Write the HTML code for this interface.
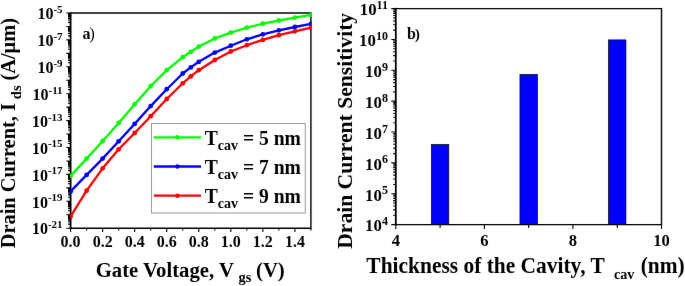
<!DOCTYPE html><html><head><meta charset="utf-8"><style>html,body{margin:0;padding:0;background:#fff;width:685px;height:286px;overflow:hidden}#w{width:685px;height:286px;background:#fff;will-change:transform}svg{display:block}text{font-family:"Liberation Serif",serif;font-weight:bold;fill:#000}</style></head><body><div id="w">
<svg width="685" height="286" viewBox="0 0 685 286">
<defs><filter id="sf" x="0" y="0" width="685" height="286" filterUnits="userSpaceOnUse" color-interpolation-filters="sRGB"><feConvolveMatrix order="3" kernelMatrix="0.00163 0.03713 0.00163 0.03713 0.84497 0.03713 0.00163 0.03713 0.00163" edgeMode="duplicate"/></filter></defs>
<g filter="url(#sf)"><rect width="685" height="286" fill="#fff"/>
<path d="M66.30 228.20H70.60M68.00 224.15H70.60M68.00 221.78H70.60M68.00 220.10H70.60M68.00 218.80H70.60M68.00 217.73H70.60M68.00 216.83H70.60M68.00 216.05H70.60M68.00 215.37H70.60M66.30 214.75H70.60M68.00 210.70H70.60M68.00 208.33H70.60M68.00 206.65H70.60M68.00 205.35H70.60M68.00 204.28H70.60M68.00 203.38H70.60M68.00 202.60H70.60M68.00 201.92H70.60M66.30 201.30H70.60M68.00 197.25H70.60M68.00 194.88H70.60M68.00 193.20H70.60M68.00 191.90H70.60M68.00 190.83H70.60M68.00 189.93H70.60M68.00 189.15H70.60M68.00 188.47H70.60M66.30 187.85H70.60M68.00 183.80H70.60M68.00 181.43H70.60M68.00 179.75H70.60M68.00 178.45H70.60M68.00 177.38H70.60M68.00 176.48H70.60M68.00 175.70H70.60M68.00 175.02H70.60M66.30 174.40H70.60M68.00 170.35H70.60M68.00 167.98H70.60M68.00 166.30H70.60M68.00 165.00H70.60M68.00 163.93H70.60M68.00 163.03H70.60M68.00 162.25H70.60M68.00 161.57H70.60M66.30 160.95H70.60M68.00 156.90H70.60M68.00 154.53H70.60M68.00 152.85H70.60M68.00 151.55H70.60M68.00 150.48H70.60M68.00 149.58H70.60M68.00 148.80H70.60M68.00 148.12H70.60M66.30 147.50H70.60M68.00 143.45H70.60M68.00 141.08H70.60M68.00 139.40H70.60M68.00 138.10H70.60M68.00 137.03H70.60M68.00 136.13H70.60M68.00 135.35H70.60M68.00 134.67H70.60M66.30 134.05H70.60M68.00 130.00H70.60M68.00 127.63H70.60M68.00 125.95H70.60M68.00 124.65H70.60M68.00 123.58H70.60M68.00 122.68H70.60M68.00 121.90H70.60M68.00 121.22H70.60M66.30 120.60H70.60M68.00 116.55H70.60M68.00 114.18H70.60M68.00 112.50H70.60M68.00 111.20H70.60M68.00 110.13H70.60M68.00 109.23H70.60M68.00 108.45H70.60M68.00 107.77H70.60M66.30 107.15H70.60M68.00 103.10H70.60M68.00 100.73H70.60M68.00 99.05H70.60M68.00 97.75H70.60M68.00 96.68H70.60M68.00 95.78H70.60M68.00 95.00H70.60M68.00 94.32H70.60M66.30 93.70H70.60M68.00 89.65H70.60M68.00 87.28H70.60M68.00 85.60H70.60M68.00 84.30H70.60M68.00 83.23H70.60M68.00 82.33H70.60M68.00 81.55H70.60M68.00 80.87H70.60M66.30 80.25H70.60M68.00 76.20H70.60M68.00 73.83H70.60M68.00 72.15H70.60M68.00 70.85H70.60M68.00 69.78H70.60M68.00 68.88H70.60M68.00 68.10H70.60M68.00 67.42H70.60M66.30 66.80H70.60M68.00 62.75H70.60M68.00 60.38H70.60M68.00 58.70H70.60M68.00 57.40H70.60M68.00 56.33H70.60M68.00 55.43H70.60M68.00 54.65H70.60M68.00 53.97H70.60M66.30 53.35H70.60M68.00 49.30H70.60M68.00 46.93H70.60M68.00 45.25H70.60M68.00 43.95H70.60M68.00 42.88H70.60M68.00 41.98H70.60M68.00 41.20H70.60M68.00 40.52H70.60M66.30 39.90H70.60M68.00 35.85H70.60M68.00 33.48H70.60M68.00 31.80H70.60M68.00 30.50H70.60M68.00 29.43H70.60M68.00 28.53H70.60M68.00 27.75H70.60M68.00 27.07H70.60M66.30 26.45H70.60M68.00 22.40H70.60M68.00 20.03H70.60M68.00 18.35H70.60M68.00 17.05H70.60M68.00 15.98H70.60M68.00 15.08H70.60M68.00 14.30H70.60M68.00 13.62H70.60M66.30 13.00H70.60M70.60 228.20V232.00M86.62 228.20V230.40M102.64 228.20V232.00M118.66 228.20V230.40M134.68 228.20V232.00M150.70 228.20V230.40M166.72 228.20V232.00M182.74 228.20V230.40M198.76 228.20V232.00M214.78 228.20V230.40M230.80 228.20V232.00M246.82 228.20V230.40M262.84 228.20V232.00M278.86 228.20V230.40M294.88 228.20V232.00M310.90 228.20V230.40" stroke="#000" stroke-width="1.1" fill="none"/>
<path d="M70.60 13.00H310.90" stroke="#000" stroke-width="1.4"/>
<path d="M70.60 228.20H310.90" stroke="#000" stroke-width="1.4"/>
<path d="M70.60 12.30V228.90" stroke="#000" stroke-width="1.8"/>
<path d="M310.90 12.30V228.90" stroke="#222" stroke-width="1.6"/>
<svg x="70.10" y="12.30" width="241.50" height="216.60" viewBox="70.10 12.30 241.50 216.60" overflow="hidden">
<polyline points="70.60,175.90 86.62,158.60 102.64,141.00 118.66,122.90 134.68,104.20 150.70,86.00 166.72,70.10 182.74,57.20 190.75,51.80 198.76,46.60 214.78,38.40 230.80,32.60 246.82,27.70 262.84,23.70 278.86,20.50 294.88,17.60 310.90,14.80" fill="none" stroke="#00ff00" stroke-width="2.3" stroke-linejoin="round"/>
<circle cx="70.60" cy="175.90" r="2.4" fill="#00ff00"/>
<circle cx="86.62" cy="158.60" r="2.4" fill="#00ff00"/>
<circle cx="102.64" cy="141.00" r="2.4" fill="#00ff00"/>
<circle cx="118.66" cy="122.90" r="2.4" fill="#00ff00"/>
<circle cx="134.68" cy="104.20" r="2.4" fill="#00ff00"/>
<circle cx="150.70" cy="86.00" r="2.4" fill="#00ff00"/>
<circle cx="166.72" cy="70.10" r="2.4" fill="#00ff00"/>
<circle cx="182.74" cy="57.20" r="2.4" fill="#00ff00"/>
<circle cx="190.75" cy="51.80" r="2.4" fill="#00ff00"/>
<circle cx="198.76" cy="46.60" r="2.4" fill="#00ff00"/>
<circle cx="214.78" cy="38.40" r="2.4" fill="#00ff00"/>
<circle cx="230.80" cy="32.60" r="2.4" fill="#00ff00"/>
<circle cx="246.82" cy="27.70" r="2.4" fill="#00ff00"/>
<circle cx="262.84" cy="23.70" r="2.4" fill="#00ff00"/>
<circle cx="278.86" cy="20.50" r="2.4" fill="#00ff00"/>
<circle cx="294.88" cy="17.60" r="2.4" fill="#00ff00"/>
<circle cx="310.90" cy="14.80" r="2.4" fill="#00ff00"/>
<polyline points="70.60,191.40 86.62,174.90 102.64,158.60 118.66,141.30 134.68,123.90 150.70,106.10 166.72,89.20 182.74,73.50 190.75,67.40 198.76,61.80 214.78,52.60 230.80,45.70 246.82,39.30 262.84,34.30 278.86,30.30 294.88,27.00 310.90,23.90" fill="none" stroke="#0000ff" stroke-width="2.3" stroke-linejoin="round"/>
<circle cx="70.60" cy="191.40" r="2.4" fill="#0000ff"/>
<circle cx="86.62" cy="174.90" r="2.4" fill="#0000ff"/>
<circle cx="102.64" cy="158.60" r="2.4" fill="#0000ff"/>
<circle cx="118.66" cy="141.30" r="2.4" fill="#0000ff"/>
<circle cx="134.68" cy="123.90" r="2.4" fill="#0000ff"/>
<circle cx="150.70" cy="106.10" r="2.4" fill="#0000ff"/>
<circle cx="166.72" cy="89.20" r="2.4" fill="#0000ff"/>
<circle cx="182.74" cy="73.50" r="2.4" fill="#0000ff"/>
<circle cx="190.75" cy="67.40" r="2.4" fill="#0000ff"/>
<circle cx="198.76" cy="61.80" r="2.4" fill="#0000ff"/>
<circle cx="214.78" cy="52.60" r="2.4" fill="#0000ff"/>
<circle cx="230.80" cy="45.70" r="2.4" fill="#0000ff"/>
<circle cx="246.82" cy="39.30" r="2.4" fill="#0000ff"/>
<circle cx="262.84" cy="34.30" r="2.4" fill="#0000ff"/>
<circle cx="278.86" cy="30.30" r="2.4" fill="#0000ff"/>
<circle cx="294.88" cy="27.00" r="2.4" fill="#0000ff"/>
<circle cx="310.90" cy="23.90" r="2.4" fill="#0000ff"/>
<polyline points="70.60,216.50 86.62,190.70 102.64,168.30 118.66,149.30 134.68,133.00 150.70,116.20 166.72,99.00 182.74,83.30 190.75,76.40 198.76,70.20 214.78,60.00 230.80,51.50 246.82,45.20 262.84,39.90 278.86,35.20 294.88,31.30 310.90,27.70" fill="none" stroke="#ff0000" stroke-width="2.3" stroke-linejoin="round"/>
<circle cx="70.60" cy="216.50" r="2.4" fill="#ff0000"/>
<circle cx="86.62" cy="190.70" r="2.4" fill="#ff0000"/>
<circle cx="102.64" cy="168.30" r="2.4" fill="#ff0000"/>
<circle cx="118.66" cy="149.30" r="2.4" fill="#ff0000"/>
<circle cx="134.68" cy="133.00" r="2.4" fill="#ff0000"/>
<circle cx="150.70" cy="116.20" r="2.4" fill="#ff0000"/>
<circle cx="166.72" cy="99.00" r="2.4" fill="#ff0000"/>
<circle cx="182.74" cy="83.30" r="2.4" fill="#ff0000"/>
<circle cx="190.75" cy="76.40" r="2.4" fill="#ff0000"/>
<circle cx="198.76" cy="70.20" r="2.4" fill="#ff0000"/>
<circle cx="214.78" cy="60.00" r="2.4" fill="#ff0000"/>
<circle cx="230.80" cy="51.50" r="2.4" fill="#ff0000"/>
<circle cx="246.82" cy="45.20" r="2.4" fill="#ff0000"/>
<circle cx="262.84" cy="39.90" r="2.4" fill="#ff0000"/>
<circle cx="278.86" cy="35.20" r="2.4" fill="#ff0000"/>
<circle cx="294.88" cy="31.30" r="2.4" fill="#ff0000"/>
<circle cx="310.90" cy="27.70" r="2.4" fill="#ff0000"/>
</svg>
<text x="47.94" y="228.10" font-size="11.00">-21</text>
<text x="47.94" y="234.40" font-size="16.00" text-anchor="end">10</text>
<text x="47.94" y="201.20" font-size="11.00">-19</text>
<text x="47.94" y="207.50" font-size="16.00" text-anchor="end">10</text>
<text x="47.94" y="174.30" font-size="11.00">-17</text>
<text x="47.94" y="180.60" font-size="16.00" text-anchor="end">10</text>
<text x="47.94" y="147.40" font-size="11.00">-15</text>
<text x="47.94" y="153.70" font-size="16.00" text-anchor="end">10</text>
<text x="47.94" y="120.50" font-size="11.00">-13</text>
<text x="47.94" y="126.80" font-size="16.00" text-anchor="end">10</text>
<text x="48.54" y="93.60" font-size="11.00">-11</text>
<text x="48.54" y="99.90" font-size="16.00" text-anchor="end">10</text>
<text x="53.44" y="66.70" font-size="11.00">-9</text>
<text x="53.44" y="73.00" font-size="16.00" text-anchor="end">10</text>
<text x="53.44" y="39.80" font-size="11.00">-7</text>
<text x="53.44" y="46.10" font-size="16.00" text-anchor="end">10</text>
<text x="53.44" y="12.90" font-size="11.00">-5</text>
<text x="53.44" y="19.20" font-size="16.00" text-anchor="end">10</text>
<text x="70.60" y="246.80" font-size="16.00" text-anchor="middle">0.0</text>
<text x="102.64" y="246.80" font-size="16.00" text-anchor="middle">0.2</text>
<text x="134.68" y="246.80" font-size="16.00" text-anchor="middle">0.4</text>
<text x="166.72" y="246.80" font-size="16.00" text-anchor="middle">0.6</text>
<text x="198.76" y="246.80" font-size="16.00" text-anchor="middle">0.8</text>
<text x="230.80" y="246.80" font-size="16.00" text-anchor="middle">1.0</text>
<text x="262.84" y="246.80" font-size="16.00" text-anchor="middle">1.2</text>
<text x="294.88" y="246.80" font-size="16.00" text-anchor="middle">1.4</text>
<rect x="151.5" y="123.5" width="153.8" height="89.5" fill="#fff" stroke="#999" stroke-width="1"/>
<path d="M153.8 137.30H201" stroke="#00ff00" stroke-width="2.3"/>
<circle cx="177.4" cy="137.30" r="2.2" fill="#00ff00"/>
<text x="204.70" y="144.55" font-size="19.60" transform="matrix(1 0 0 1.050 0 -7.228)">T</text>
<text x="217.77" y="149.75" font-size="14.00" transform="matrix(1 0 0 1.050 0 -7.488)">cav</text>
<text x="242.89" y="144.55" font-size="19.60" transform="matrix(1 0 0 1.050 0 -7.228)">= 5 nm</text>
<path d="M153.8 166.50H201" stroke="#0000ff" stroke-width="2.3"/>
<circle cx="177.4" cy="166.50" r="2.2" fill="#0000ff"/>
<text x="204.70" y="173.75" font-size="19.60" transform="matrix(1 0 0 1.050 0 -8.688)">T</text>
<text x="217.77" y="178.95" font-size="14.00" transform="matrix(1 0 0 1.050 0 -8.948)">cav</text>
<text x="242.89" y="173.75" font-size="19.60" transform="matrix(1 0 0 1.050 0 -8.688)">= 7 nm</text>
<path d="M153.8 195.70H201" stroke="#ff0000" stroke-width="2.3"/>
<circle cx="177.4" cy="195.70" r="2.2" fill="#ff0000"/>
<text x="204.70" y="202.95" font-size="19.60" transform="matrix(1 0 0 1.050 0 -10.148)">T</text>
<text x="217.77" y="208.15" font-size="14.00" transform="matrix(1 0 0 1.050 0 -10.408)">cav</text>
<text x="242.89" y="202.95" font-size="19.60" transform="matrix(1 0 0 1.050 0 -10.148)">= 9 nm</text>
<text x="82.40" y="38.80" font-size="16.00">a</text>
<text x="89.60" y="38.85" font-size="15.80" style="font-weight:normal">)</text>
<text x="407.00" y="39.00" font-size="16.00">b</text>
<text x="415.10" y="39.10" font-size="14.50">)</text>
<text x="95.69" y="277.00" font-size="20.70" transform="matrix(1 0 0 1.060 0 -16.620)">Gate Voltage, V</text>
<text x="238.50" y="282.50" font-size="14.40" transform="matrix(1 0 0 1.060 0 -16.950)">gs</text>
<text x="256.00" y="277.00" font-size="20.70" transform="matrix(1 0 0 1.060 0 -16.620)">(V)</text>
<g transform="rotate(-90)">
<text x="-248.27" y="14.80" font-size="20.40">Drain Current, I</text>
<text x="-99.20" y="20.80" font-size="14.50">ds</text>
<text x="-80.60" y="14.80" font-size="20.40">(A/μm)</text>
</g>
<rect x="431.38" y="144.50" width="17.40" height="80.10" fill="#0000ff" stroke="#000" stroke-width="0.7"/>
<rect x="519.95" y="74.50" width="17.40" height="150.10" fill="#0000ff" stroke="#000" stroke-width="0.7"/>
<rect x="608.52" y="39.90" width="17.40" height="184.70" fill="#0000ff" stroke="#000" stroke-width="0.7"/>
<path d="M391.30 224.60H395.80M393.20 215.31H395.80M393.20 209.88H395.80M393.20 206.02H395.80M393.20 203.03H395.80M393.20 200.59H395.80M393.20 198.52H395.80M393.20 196.73H395.80M393.20 195.15H395.80M391.30 193.74H395.80M393.20 184.45H395.80M393.20 179.02H395.80M393.20 175.17H395.80M393.20 172.17H395.80M393.20 169.73H395.80M393.20 167.67H395.80M393.20 165.88H395.80M393.20 164.30H395.80M391.30 162.89H395.80M393.20 153.60H395.80M393.20 148.16H395.80M393.20 144.31H395.80M393.20 141.32H395.80M393.20 138.87H395.80M393.20 136.81H395.80M393.20 135.02H395.80M393.20 133.44H395.80M391.30 132.03H395.80M393.20 122.74H395.80M393.20 117.31H395.80M393.20 113.45H395.80M393.20 110.46H395.80M393.20 108.02H395.80M393.20 105.95H395.80M393.20 104.16H395.80M393.20 102.58H395.80M391.30 101.17H395.80M393.20 91.88H395.80M393.20 86.45H395.80M393.20 82.59H395.80M393.20 79.60H395.80M393.20 77.16H395.80M393.20 75.09H395.80M393.20 73.30H395.80M393.20 71.73H395.80M391.30 70.31H395.80M393.20 61.03H395.80M393.20 55.59H395.80M393.20 51.74H395.80M393.20 48.75H395.80M393.20 46.30H395.80M393.20 44.24H395.80M393.20 42.45H395.80M393.20 40.87H395.80M391.30 39.46H395.80M393.20 30.17H395.80M393.20 24.73H395.80M393.20 20.88H395.80M393.20 17.89H395.80M393.20 15.45H395.80M393.20 13.38H395.80M393.20 11.59H395.80M393.20 10.01H395.80M391.30 8.60H395.80M395.80 224.60V228.90M440.08 224.60V228.00M484.37 224.60V228.90M528.65 224.60V228.00M572.93 224.60V228.90M617.22 224.60V228.00M661.50 224.60V228.90" stroke="#000" stroke-width="1.1" fill="none"/>
<path d="M395.80 8.60H661.50" stroke="#000" stroke-width="1.4"/>
<path d="M395.80 224.60H661.50" stroke="#000" stroke-width="1.4"/>
<path d="M395.80 7.90V225.30" stroke="#000" stroke-width="1.8"/>
<path d="M661.50 7.90V225.30" stroke="#111" stroke-width="1.5"/>
<text x="381.90" y="225.10" font-size="12.00">4</text>
<text x="381.90" y="231.40" font-size="16.80" text-anchor="end">10</text>
<text x="381.90" y="194.24" font-size="12.00">5</text>
<text x="381.90" y="200.54" font-size="16.80" text-anchor="end">10</text>
<text x="381.90" y="163.39" font-size="12.00">6</text>
<text x="381.90" y="169.69" font-size="16.80" text-anchor="end">10</text>
<text x="381.90" y="132.53" font-size="12.00">7</text>
<text x="381.90" y="138.83" font-size="16.80" text-anchor="end">10</text>
<text x="381.90" y="101.67" font-size="12.00">8</text>
<text x="381.90" y="107.97" font-size="16.80" text-anchor="end">10</text>
<text x="381.90" y="70.81" font-size="12.00">9</text>
<text x="381.90" y="77.11" font-size="16.80" text-anchor="end">10</text>
<text x="375.90" y="39.96" font-size="12.00">10</text>
<text x="375.90" y="46.26" font-size="16.80" text-anchor="end">10</text>
<text x="376.56" y="9.10" font-size="12.00">11</text>
<text x="376.56" y="15.40" font-size="16.80" text-anchor="end">10</text>
<text x="395.80" y="245.60" font-size="16.60" text-anchor="middle">4</text>
<text x="484.37" y="245.60" font-size="16.60" text-anchor="middle">6</text>
<text x="572.93" y="245.60" font-size="16.60" text-anchor="middle">8</text>
<text x="661.50" y="245.60" font-size="16.60" text-anchor="middle">10</text>
<text x="366.36" y="272.90" font-size="21.45" transform="matrix(1 0 0 1.080 0 -21.832)">Thickness of the Cavity, T</text>
<text x="613.90" y="278.80" font-size="14.10" transform="matrix(1 0 0 1.080 0 -22.304)">cav</text>
<text x="640.70" y="272.90" font-size="21.45" transform="matrix(1 0 0 1.080 0 -21.832)">(nm)</text>
<g transform="rotate(-90)">
<text x="-248.79" y="351.50" font-size="21.60">Drain Current Sensitivity</text>
</g>
</g></svg></div></body></html>
